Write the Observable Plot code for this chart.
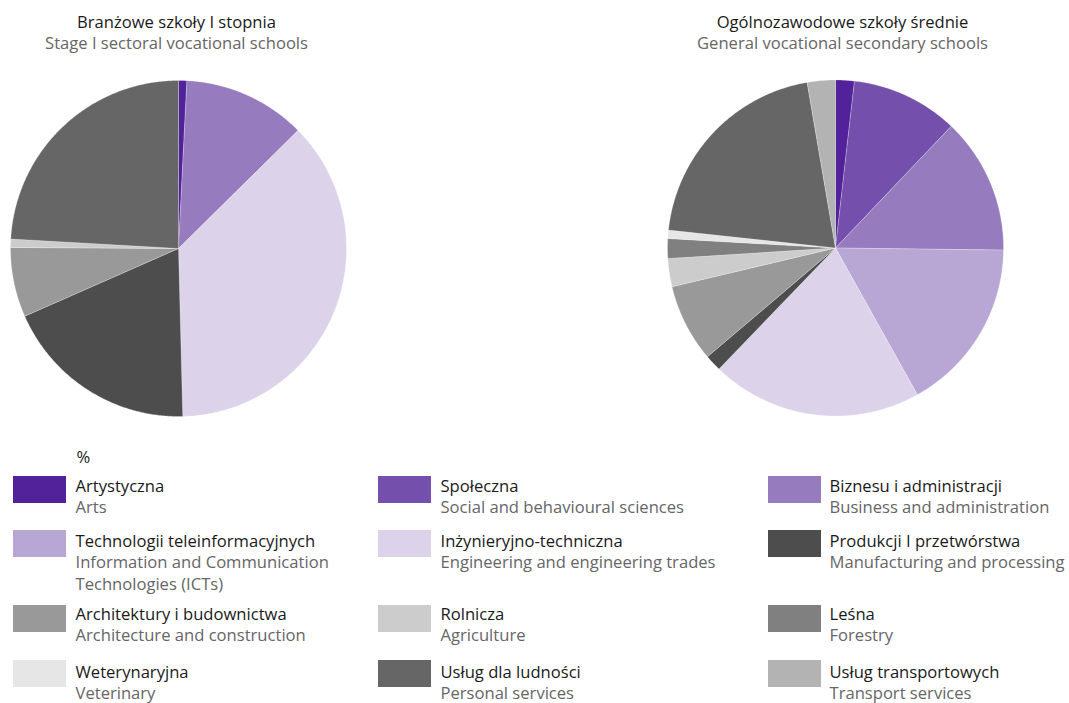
<!DOCTYPE html>
<html>
<head>
<meta charset="utf-8">
<script src="https://cdn.jsdelivr.net/npm/d3@7"></script>
<script src="https://cdn.jsdelivr.net/npm/@observablehq/plot@0.6"></script>
<style>
  body { margin: 0; background: #fff; }
  #chart svg { display: block; }
</style>
</head>
<body>
<div id="chart"></div>
<script>
// ---- data ----
const categoriesPL = [
  "Artystyczna", "Społeczna", "Biznesu i administracji",
  "Technologii teleinformacyjnych", "Inżynieryjno-techniczna", "Produkcji I przetwórstwa",
  "Architektury i budownictwa", "Rolnicza", "Leśna",
  "Weterynaryjna", "Usług dla ludności", "Usług transportowych"
];
const categoriesEN = [
  "Arts", "Social and behavioural sciences", "Business and administration",
  "Information and Communication\nTechnologies (ICTs)", "Engineering and engineering trades", "Manufacturing and processing",
  "Architecture and construction", "Agriculture", "Forestry",
  "Veterinary", "Personal services", "Transport services"
];
const colors = [
  "#52229a", "#744fac", "#967bbf",
  "#b8a6d4", "#dcd2ea", "#4d4d4d",
  "#999999", "#cccccc", "#808080",
  "#e6e6e6", "#666666", "#b3b3b3"
];
// shares in %
const branzowe = [0.8, 0, 11.8, 0, 37.0, 18.8, 6.7, 0.8, 0, 0, 24.1, 0];
const ogolnozawodowe = [1.8, 10.3, 13.1, 16.7, 20.3, 1.6, 7.5, 2.7, 1.9, 0.8, 20.6, 2.7];
const pieTitlesPL = ["Branżowe szkoły I stopnia", "Ogólnozawodowe szkoły średnie"];
const pieTitlesEN = ["Stage I sectoral vocational schools", "General vocational secondary schools"];
const unitLabel = "%";

// ---- layout ----
const W = 1069, H = 703;
const pies = [
  {cx: 178, cy: 248, r: 168, values: branzowe, tx: 176},
  {cx: 835, cy: 247.5, r: 168, values: ogolnozawodowe, tx: 842}
];
const titleY1 = 27, titleY2 = 48.5;
const legCols = [{sx: 13, tx: 75}, {sx: 378, tx: 440}, {sx: 768, tx: 829}];
const legRows = [{sy: 476, pl: 491.5, en: 512.8}, {sy: 530, pl: 546.5, en: 567.8}, {sy: 605, pl: 619.5, en: 640.8}, {sy: 660, pl: 677.5, en: 698.8}];
const swW = 53, swH = 27, lineGap = 21.3;
const fontSize = 16.6;

// ---- wedge geometry from data ----
const wedgePts = [];
pies.forEach((p, pi) => {
  const arcs = d3.pie().sort(null).value(d => d)(p.values);
  arcs.forEach((a, i) => {
    if (a.value <= 0) return;
    const id = pi + "-" + i;
    const n = Math.max(2, Math.ceil((a.endAngle - a.startAngle) / (Math.PI / 360)));
    wedgePts.push({id, cat: categoriesPL[i], x: p.cx, y: p.cy});
    for (let k = 0; k <= n; k++) {
      const t = a.startAngle + (a.endAngle - a.startAngle) * k / n;
      wedgePts.push({id, cat: categoriesPL[i], x: p.cx + p.r * Math.sin(t), y: p.cy - p.r * Math.cos(t)});
    }
    wedgePts.push({id, cat: categoriesPL[i], x: p.cx, y: p.cy});
  });
});

const titles = pies.flatMap((p, i) => [
  {x: p.tx, y: titleY1, text: pieTitlesPL[i], c: "#1a1a1a"},
  {x: p.tx, y: titleY2, text: pieTitlesEN[i], c: "#666666"}
]);

const legendItems = categoriesPL.map((c, i) => {
  const col = legCols[i % 3], row = legRows[Math.floor(i / 3)];
  return {cat: c, x1: col.sx, x2: col.sx + swW, y1: row.sy, y2: row.sy + swH, tx: col.tx, pl: row.pl, en: row.en, enText: categoriesEN[i]};
});
const legendTexts = legendItems.flatMap(d => [
  {x: d.tx, y: d.pl, text: d.cat, c: "#1a1a1a"},
  ...d.enText.split("\n").map((t, k) => ({x: d.tx, y: d.en + k * lineGap, text: t, c: "#666666"}))
]);
legendTexts.push({x: legCols[0].tx + 1, y: 462, text: unitLabel, c: "#1a1a1a"});

const chart = Plot.plot({
  width: W, height: H,
  margin: 0,
  x: {domain: [0, W], range: [0, W], axis: null},
  y: {domain: [0, H], range: [0, H], axis: null},
  color: {domain: categoriesPL, range: colors},
  style: {fontFamily: "'Open Sans', sans-serif", background: "#fff"},
  marks: [
    Plot.line(wedgePts, {x: "x", y: "y", z: "id", fill: "cat", stroke: "#ffffff", strokeWidth: 0.4, strokeOpacity: 0.6, curve: "linear"}),
    Plot.text(titles, {x: "x", y: "y", text: "text", fill: "c", fontSize, textAnchor: "middle", lineAnchor: "bottom"}),
    Plot.rect(legendItems, {x1: "x1", x2: "x2", y1: "y1", y2: "y2", fill: "cat"}),
    Plot.text(legendTexts, {x: "x", y: "y", text: "text", fill: "c", fontSize, textAnchor: "start", lineAnchor: "bottom"})
  ]
});
document.getElementById("chart").appendChild(chart);
</script>
</body>
</html>
